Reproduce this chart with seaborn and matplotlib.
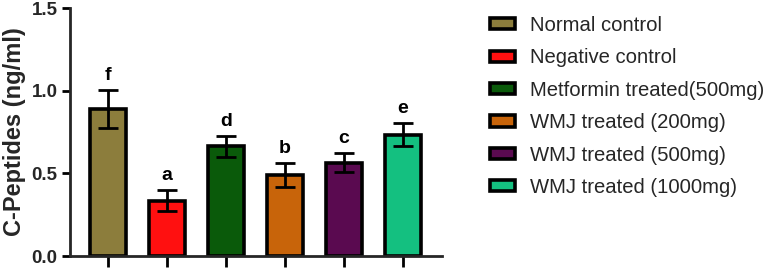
import matplotlib
matplotlib.use("Agg")
import matplotlib.pyplot as plt
import seaborn as sns
import pandas as pd
import numpy as np

groups = ["Normal control", "Negative control", "Metformin treated(500mg)",
          "WMJ treated (200mg)", "WMJ treated (500mg)", "WMJ treated (1000mg)"]
values = [0.89, 0.335, 0.665, 0.49, 0.565, 0.735]
errors = [0.115, 0.065, 0.063, 0.073, 0.057, 0.072]
letters = ["f", "a", "d", "b", "c", "e"]
colors = ["#8C7D3C", "#FF1010", "#0A5A0A", "#C8640A", "#5A0A50", "#14C080"]

sns.set_style("ticks")
plt.rcParams["font.family"] = ["Liberation Sans", "DejaVu Sans"]

df = pd.DataFrame({"group": groups, "value": values})

fig = plt.figure(figsize=(7.67, 2.69), dpi=100)
ax = fig.add_axes([0.0913, 0.048, 0.4850, 0.922])

sns.barplot(data=df, x="group", y="value", hue="group", palette=colors,
            order=groups, hue_order=groups, dodge=False, errorbar=None,
            width=0.6, edgecolor="black", linewidth=2.6, legend=False,
            saturation=1, ax=ax)

xs = np.arange(len(groups))
ax.errorbar(xs, values, yerr=errors, fmt="none", ecolor="black",
            elinewidth=2.0, capsize=7, capthick=2.0, zorder=5)
for x, v, e, t in zip(xs, values, errors, letters):
    ax.text(x, v + e + 0.035, t, ha="center", va="bottom",
            fontsize=14, fontweight="bold", color="black")

ax.set_xlim(-0.645, 5.66)
ax.set_ylim(0, 1.5)
ax.set_yticks([0.0, 0.5, 1.0, 1.5])
ax.set_yticklabels(["0.0", "0.5", "1.0", "1.5"], fontsize=13.5, fontweight="bold")
ax.set_xticks(xs)
ax.set_xticklabels([""] * len(groups))
ax.set_xlabel("")
ax.set_ylabel("C-Peptides (ng/ml)", fontsize=17, fontweight="bold", labelpad=4)
for s in ["top", "right"]:
    ax.spines[s].set_visible(False)
for s in ["left", "bottom"]:
    ax.spines[s].set_linewidth(2.0)
ax.tick_params(axis="both", width=2.0, length=6, color="black", pad=3)
ax.tick_params(axis="x", length=8)

from matplotlib.patches import Patch
handles = [Patch(facecolor=c, edgecolor="black", linewidth=2.6) for c in colors]
fig.legend(handles, groups, loc="upper left", bbox_to_anchor=(0.626, 0.978),
           frameon=False, fontsize=14.6, handlelength=1.2, handleheight=0.48,
           labelspacing=0.66, handletextpad=0.75, borderpad=0.0)

fig.savefig("out.png", dpi=100)
